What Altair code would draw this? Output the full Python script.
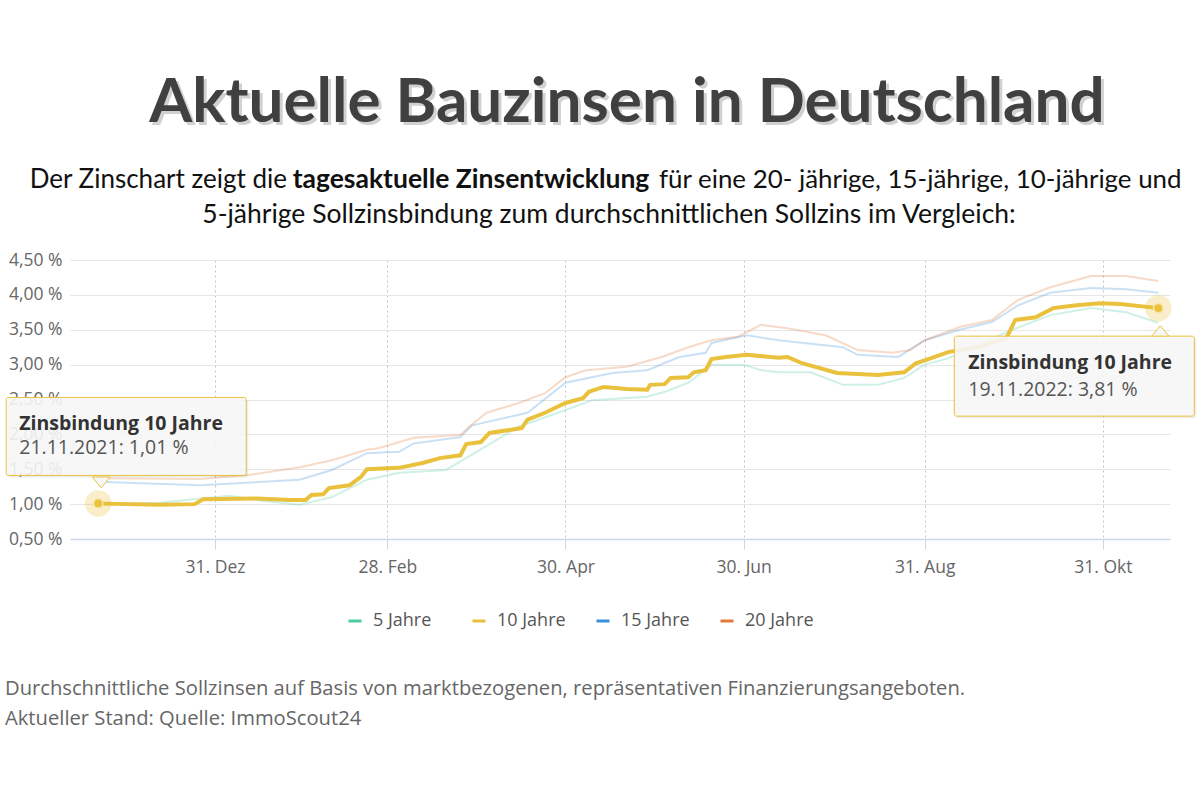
import altair as alt
import pandas as pd

# ---------------- texts ----------------
TITLE = "Aktuelle Bauzinsen in Deutschland"
SUB1_A = "Der Zinschart zeigt die"
SUB1_B = "tagesaktuelle Zinsentwicklung"
SUB1_C = "für eine 20- jährige, 15-jährige, 10-jährige und"
SUB2 = "5-jährige Sollzinsbindung zum durchschnittlichen Sollzins im Vergleich:"
FOOT1 = "Durchschnittliche Sollzinsen auf Basis von marktbezogenen, repräsentativen Finanzierungsangeboten."
FOOT2 = "Aktueller Stand: Quelle: ImmoScout24"
TIP_TITLE = "Zinsbindung 10 Jahre"

# ---------------- series ----------------
series_names = ["5 Jahre", "10 Jahre", "15 Jahre", "20 Jahre"]
series_colors = ["#4fcaa2", "#e9c13c", "#3d8fdb", "#e27b3b"]

dates_10 = ["2021-11-21", "2021-12-01", "2021-12-12", "2021-12-24", "2021-12-27", "2022-01-14",
            "2022-01-26", "2022-01-31", "2022-02-02", "2022-02-06", "2022-02-08", "2022-02-15",
            "2022-02-19", "2022-02-21", "2022-03-04", "2022-03-12", "2022-03-18", "2022-03-25",
            "2022-03-27", "2022-04-01", "2022-04-04", "2022-04-15", "2022-04-17", "2022-04-23",
            "2022-04-30", "2022-05-06", "2022-05-08", "2022-05-13", "2022-05-21", "2022-05-28",
            "2022-05-29", "2022-06-03", "2022-06-05", "2022-06-11", "2022-06-13", "2022-06-17",
            "2022-06-19", "2022-06-24", "2022-07-01", "2022-07-12", "2022-07-15", "2022-07-20",
            "2022-08-01", "2022-08-15", "2022-08-24", "2022-08-28", "2022-09-02", "2022-09-08",
            "2022-09-18", "2022-09-28", "2022-10-01", "2022-10-08", "2022-10-14", "2022-10-22",
            "2022-10-30", "2022-11-06", "2022-11-19"]
vals_10 = [1.01, 1.00, 0.99, 1.00, 1.07, 1.08, 1.06, 1.06, 1.13, 1.14, 1.23, 1.27,
           1.39, 1.50, 1.52, 1.59, 1.66, 1.70, 1.86, 1.89, 2.02, 2.09, 2.21, 2.31,
           2.45, 2.52, 2.61, 2.68, 2.65, 2.64, 2.71, 2.72, 2.81, 2.82, 2.89, 2.92,
           3.08, 3.11, 3.14, 3.10, 3.11, 3.02, 2.88, 2.85, 2.89, 3.02, 3.09, 3.18,
           3.25, 3.38, 3.64, 3.68, 3.81, 3.85, 3.88, 3.87, 3.81]

dates_20 = ["2021-11-21", "2021-12-26", "2022-01-12", "2022-01-29", "2022-02-09", "2022-02-21",
            "2022-02-25", "2022-03-09", "2022-03-25", "2022-03-28", "2022-04-03", "2022-04-14",
            "2022-04-23", "2022-04-30", "2022-05-07", "2022-05-21", "2022-06-02", "2022-06-11",
            "2022-06-19", "2022-06-28", "2022-07-06", "2022-07-15", "2022-07-28", "2022-08-08",
            "2022-08-20", "2022-08-26", "2022-08-31", "2022-09-12", "2022-09-23", "2022-10-02",
            "2022-10-13", "2022-10-27", "2022-11-08", "2022-11-19"]
vals_20 = [1.37, 1.36, 1.42, 1.53, 1.63, 1.78, 1.80, 1.95, 1.99, 2.11, 2.31, 2.45,
           2.59, 2.82, 2.92, 2.97, 3.11, 3.25, 3.35, 3.40, 3.57, 3.52, 3.42, 3.21,
           3.17, 3.21, 3.35, 3.54, 3.64, 3.93, 4.11, 4.27, 4.27, 4.20]

dates_15 = ["2021-11-21", "2021-12-26", "2022-01-29", "2022-02-09", "2022-02-21", "2022-03-04",
            "2022-03-09", "2022-03-25", "2022-03-29", "2022-04-17", "2022-04-30", "2022-05-16",
            "2022-05-28", "2022-06-08", "2022-06-17", "2022-06-19", "2022-07-01", "2022-07-12",
            "2022-08-03", "2022-08-08", "2022-08-22", "2022-08-31", "2022-09-12", "2022-09-23",
            "2022-10-02", "2022-10-13", "2022-10-27", "2022-11-08", "2022-11-19"]
vals_15 = [1.32, 1.27, 1.35, 1.49, 1.73, 1.75, 1.87, 1.96, 2.13, 2.31, 2.74, 2.88,
           2.92, 3.11, 3.17, 3.31, 3.42, 3.35, 3.25, 3.14, 3.11, 3.35, 3.50, 3.61,
           3.85, 4.03, 4.10, 4.08, 4.03]

dates_5 = ["2021-11-21", "2021-12-12", "2021-12-26", "2022-01-05", "2022-01-16", "2022-01-29",
           "2022-02-09", "2022-02-21", "2022-03-04", "2022-03-20", "2022-03-27", "2022-04-14",
           "2022-04-30", "2022-05-09", "2022-05-28", "2022-06-03", "2022-06-11", "2022-06-19",
           "2022-06-30", "2022-07-06", "2022-07-12", "2022-07-23", "2022-08-03", "2022-08-15",
           "2022-08-24", "2022-08-31", "2022-09-08", "2022-09-30", "2022-10-13", "2022-10-27",
           "2022-11-08", "2022-11-19"]
vals_5 = [1.00, 1.02, 1.08, 1.12, 1.05, 0.99, 1.10, 1.35, 1.45, 1.49, 1.66, 2.11,
          2.35, 2.49, 2.54, 2.61, 2.74, 3.00, 3.00, 2.92, 2.89, 2.89, 2.71, 2.71,
          2.81, 3.00, 3.09, 3.50, 3.71, 3.81, 3.75, 3.60]

y_ticks = [0.5, 1.0, 1.5, 2.0, 2.5, 3.0, 3.5, 4.0, 4.5]
x_ticks = [(2021, 12, 31), (2022, 2, 28), (2022, 4, 30), (2022, 6, 30), (2022, 8, 31), (2022, 10, 31)]
month_names = ["Jan", "Feb", "Mär", "Apr", "Mai", "Jun", "Jul", "Aug", "Sep", "Okt", "Nov", "Dez"]

# ---------------- tables ----------------
rows = []
for name, ds, vs in [("5 Jahre", dates_5, vals_5), ("15 Jahre", dates_15, vals_15),
                     ("20 Jahre", dates_20, vals_20), ("10 Jahre", dates_10, vals_10)]:
    for d, v in zip(ds, vs):
        rows.append({"series": name, "date": pd.Timestamp(d), "value": v})
df = pd.DataFrame(rows)
faded = df[df["series"] != "10 Jahre"]
main = df[df["series"] == "10 Jahre"]


def tip_row(d, v):
    ts = pd.Timestamp(d)
    body = ts.strftime("%d.%m.%Y") + ": " + f"{v:.2f}".replace(".", ",") + " %"
    return pd.DataFrame({"date": [ts], "value": [v], "head": [TIP_TITLE], "body": [body]})


tip_start = tip_row(dates_10[0], vals_10[0])
tip_end = tip_row(dates_10[-1], vals_10[-1])
tips = pd.concat([tip_start, tip_end])

# ---------------- encodings ----------------
GOLD = "#e9c13c"
FONT = "Open Sans"
month_js = "[" + ",".join("'" + m + "'" for m in month_names) + "]"

x_enc = alt.X(
    "date:T",
    title=None,
    scale=alt.Scale(domain=[alt.DateTime(year=2021, month=11, date=11, hours=8),
                            alt.DateTime(year=2022, month=11, date=23)]),
    axis=alt.Axis(
        values=[alt.DateTime(year=y, month=m, date=d) for (y, m, d) in x_ticks],
        labelExpr="date(datum.value) + '. ' + " + month_js + "[month(datum.value)]",
        grid=True, gridColor="#c4c4c4", gridDash=[2, 3], gridWidth=1,
        domainColor="#ccd6eb", domainWidth=1.5,
        ticks=True, tickColor="#ccd6eb", tickSize=10,
        labelFont=FONT, labelFontSize=17.5, labelColor="#666666", labelPadding=9,
        labelAngle=0,
    ),
)
y_enc = alt.Y(
    "value:Q",
    title=None,
    scale=alt.Scale(domain=[0.5, 4.5], nice=False, zero=False),
    axis=alt.Axis(
        values=y_ticks,
        labelExpr="replace(format(datum.value, '.2f'), '.', ',') + ' %'",
        grid=True, gridColor="#e6e6e6", gridWidth=1,
        domain=False, ticks=False,
        labelFont=FONT, labelFontSize=17.5, labelColor="#666666", labelPadding=8,
    ),
)
color_enc = alt.Color(
    "series:N",
    scale=alt.Scale(domain=series_names, range=series_colors),
    sort=series_names,
    legend=alt.Legend(
        orient="none", legendX=276, legendY=352, direction="horizontal", title=None,
        symbolType="stroke", symbolStrokeWidth=3, symbolSize=170, symbolOpacity=1,
        labelFont=FONT, labelFontSize=18, labelColor="#555555", labelOffset=9,
        columnPadding=24, gridAlign="all",
    ),
)

lines_faded = alt.Chart(faded).mark_line(strokeWidth=2, opacity=0.28).encode(
    x=x_enc, y=y_enc, color=color_enc, detail="series:N"
)
line_main = alt.Chart(main).mark_line(strokeWidth=4).encode(
    x=x_enc, y=y_enc, color=color_enc
)

halo = alt.Chart(tips).mark_circle(size=700, color=GOLD, opacity=0.28).encode(x=x_enc, y=y_enc)
dot = alt.Chart(tips).mark_circle(size=85, color=GOLD, opacity=1, stroke="#f6e7a8", strokeWidth=1.5).encode(x=x_enc, y=y_enc)


def tooltip_layers(data, bx1, bx2, by1, by2, tri_path, tri_dx, tri_dy, tx, ty1, ty2):
    shadow = alt.Chart(data).mark_rect(
        fill="#000000", fillOpacity=0.07, xOffset=bx1 + 2, x2Offset=bx2 + 2,
        yOffset=by1 + 2, y2Offset=by2 + 2, cornerRadius=2,
    ).encode(x=x_enc, x2=alt.X2("date"), y=y_enc, y2=alt.Y2("value"))
    tri = alt.Chart(data).mark_point(
        shape=tri_path, size=324, filled=True, fill="#f7f7f7", stroke=GOLD,
        strokeWidth=1, opacity=1, xOffset=tri_dx, yOffset=tri_dy,
    ).encode(x=x_enc, y=y_enc)
    box = alt.Chart(data).mark_rect(
        fill="#f7f7f7", fillOpacity=0.9, stroke=GOLD, strokeWidth=1, cornerRadius=2,
        xOffset=bx1, x2Offset=bx2, yOffset=by1, y2Offset=by2,
    ).encode(x=x_enc, x2=alt.X2("date"), y=y_enc, y2=alt.Y2("value"))
    head = alt.Chart(data).mark_text(
        align="left", baseline="alphabetic", font=FONT, fontWeight="bold", fontSize=19.5,
        color="#333333", dx=tx, dy=ty1,
    ).encode(x=x_enc, y=y_enc, text="head:N")
    body = alt.Chart(data).mark_text(
        align="left", baseline="alphabetic", font=FONT, fontSize=19.5,
        color="#555555", dx=tx, dy=ty2,
    ).encode(x=x_enc, y=y_enc, text="body:N")
    return [shadow, tri, box, head, body]


tip1 = tooltip_layers(tip_start, -92, 148, -106, -28, "M-1,-0.6L0,0.6L1,-0.6Z", 3, -21, -79, -73, -49)
tip2 = tooltip_layers(tip_end, -204, 36, 28, 108, "M-1,0.6L0,-0.6L1,0.6Z", 2, 23, -190, 61, 88)


def static_text(txt, x, y, **kw):
    return alt.Chart(pd.DataFrame({"t": [txt]})).mark_text(**kw).encode(
        text="t:N", x=alt.value(x), y=alt.value(y)
    )


title_shadow = static_text(TITLE, 560, -135, align="center", baseline="alphabetic", font="Lato",
                           fontWeight="bold", fontSize=62, color="#9a9a9a", opacity=0.45)
title = static_text(TITLE, 557, -138, align="center", baseline="alphabetic", font="Lato",
                    fontWeight="bold", fontSize=62, color="#404040")
SUB_SIZE = 26.5
sub1a = static_text(SUB1_A, 217, -72, align="right", baseline="alphabetic", font="Lato",
                    fontSize=26, color="#111111")
sub1b = static_text(SUB1_B, 401, -72, align="center", baseline="alphabetic", font="Lato",
                    fontWeight="bold", fontSize=SUB_SIZE, color="#111111")
sub1c = static_text(SUB1_C, 589, -72, align="left", baseline="alphabetic", font="Lato",
                    fontSize=25.9, color="#111111")
sub2 = static_text(SUB2, 539, -37, align="center", baseline="alphabetic", font="Lato",
                   fontSize=SUB_SIZE, color="#111111")
foot1 = static_text(FOOT1, -65, 435, align="left", baseline="alphabetic", font=FONT,
                    fontSize=20.2, color="#666666")
foot2 = static_text(FOOT2, -65, 465, align="left", baseline="alphabetic", font=FONT,
                    fontSize=20.2, color="#666666")

chart = alt.layer(
    lines_faded, line_main, halo, dot, *tip1, *tip2,
    title_shadow, title, sub1a, sub1b, sub1c, sub2, foot1, foot2,
).properties(
    width=1100, height=279,
    padding={"left": 70, "top": 260, "right": 30, "bottom": 261},
    autosize=alt.AutoSizeParams(type="none"),
    background="white",
).configure_view(stroke=None)

chart.save("out.html", embed_options={"renderer": "svg", "actions": False})
